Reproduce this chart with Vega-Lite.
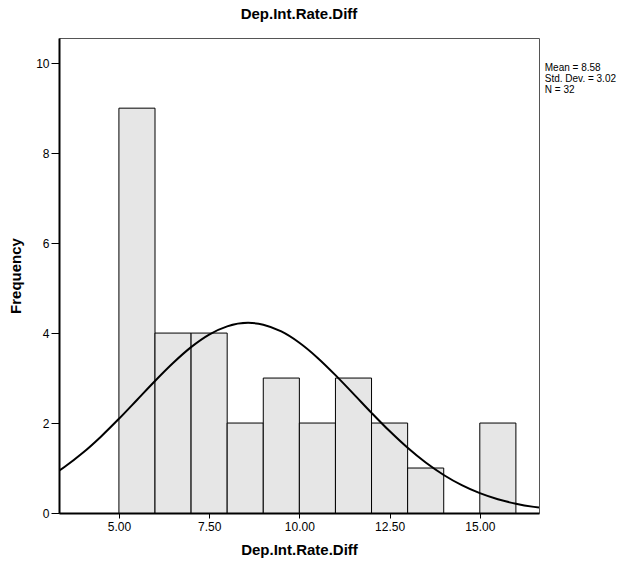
{
  "$schema": "https://vega.github.io/schema/vega-lite/v6.json",
  "width": 480,
  "height": 475,
  "autosize": {"type": "none"},
  "padding": {"left": 59, "top": 38, "right": 100, "bottom": 53},
  "background": "white",
  "title": {
    "text": "Dep.Int.Rate.Diff",
    "font": "Liberation Sans",
    "fontSize": 15,
    "fontWeight": "bold",
    "color": "black",
    "anchor": "middle",
    "offset": 16
  },
  "config": {
    "view": {"stroke": "#555555", "strokeWidth": 1},
    "axis": {
      "labelFont": "Liberation Sans",
      "titleFont": "Liberation Sans",
      "labelColor": "black",
      "titleColor": "black",
      "domainColor": "black",
      "tickColor": "black",
      "grid": false
    }
  },
  "datasets": {
    "bins": [
      {"bin_start": 5, "bin_end": 6, "count": 9},
      {"bin_start": 6, "bin_end": 7, "count": 4},
      {"bin_start": 7, "bin_end": 8, "count": 4},
      {"bin_start": 8, "bin_end": 9, "count": 2},
      {"bin_start": 9, "bin_end": 10, "count": 3},
      {"bin_start": 10, "bin_end": 11, "count": 2},
      {"bin_start": 11, "bin_end": 12, "count": 3},
      {"bin_start": 12, "bin_end": 13, "count": 2},
      {"bin_start": 13, "bin_end": 14, "count": 1},
      {"bin_start": 15, "bin_end": 16, "count": 2}
    ],
    "curve": [
      {"x": 3.34, "y": 0.938},
      {"x": 3.5, "y": 1.027},
      {"x": 4.0, "y": 1.338},
      {"x": 4.5, "y": 1.697},
      {"x": 5.0, "y": 2.094},
      {"x": 5.5, "y": 2.513},
      {"x": 6.0, "y": 2.935},
      {"x": 6.5, "y": 3.334},
      {"x": 7.0, "y": 3.687},
      {"x": 7.5, "y": 3.966},
      {"x": 8.0, "y": 4.150},
      {"x": 8.58, "y": 4.227},
      {"x": 9.0, "y": 4.187},
      {"x": 9.5, "y": 4.036},
      {"x": 10.0, "y": 3.785},
      {"x": 10.5, "y": 3.454},
      {"x": 11.0, "y": 3.066},
      {"x": 11.5, "y": 2.649},
      {"x": 12.0, "y": 2.227},
      {"x": 12.5, "y": 1.821},
      {"x": 13.0, "y": 1.449},
      {"x": 13.5, "y": 1.121},
      {"x": 14.0, "y": 0.845},
      {"x": 14.5, "y": 0.619},
      {"x": 15.0, "y": 0.441},
      {"x": 15.5, "y": 0.306},
      {"x": 16.0, "y": 0.207},
      {"x": 16.5, "y": 0.136},
      {"x": 16.64, "y": 0.120}
    ]
  },
  "layer": [
    {
      "data": {"name": "bins"},
      "mark": {"type": "bar", "fill": "#e6e6e6", "stroke": "black", "strokeWidth": 1},
      "encoding": {
        "x": {
          "field": "bin_start",
          "type": "quantitative",
          "scale": {"domain": [3.34, 16.64], "nice": false, "zero": false},
          "axis": {
            "title": "Dep.Int.Rate.Diff",
            "titleFontSize": 15,
            "titleFontWeight": "bold",
            "titlePadding": 10,
            "values": [5, 7.5, 10, 12.5, 15],
            "format": ".2f",
            "labelFontSize": 12,
            "tickSize": 5,
            "labelPadding": 3,
            "domainWidth": 2
          }
        },
        "x2": {"field": "bin_end"},
        "y": {
          "field": "count",
          "type": "quantitative",
          "scale": {"domain": [0, 10.56], "nice": false},
          "axis": {
            "title": "Frequency",
            "titleFontSize": 15,
            "titleFontWeight": "bold",
            "titlePadding": 12,
            "values": [0, 2, 4, 6, 8, 10],
            "labelFontSize": 12,
            "tickSize": 8,
            "labelPadding": 2,
            "domainWidth": 2
          }
        },
        "y2": {"datum": 0}
      }
    },
    {
      "data": {"name": "curve"},
      "mark": {"type": "line", "color": "black", "strokeWidth": 2, "interpolate": "monotone", "clip": true},
      "encoding": {
        "x": {"field": "x", "type": "quantitative"},
        "y": {"field": "y", "type": "quantitative"}
      }
    },
    {
      "data": {"values": [{}]},
      "mark": {
        "type": "text",
        "align": "left",
        "baseline": "top",
        "font": "Liberation Sans",
        "fontSize": 10,
        "lineHeight": 11,
        "color": "black",
        "clip": false
      },
      "encoding": {
        "x": {"datum": 16.8},
        "y": {"datum": 10.0},
        "text": {"value": ["Mean = 8.58", "Std. Dev. = 3.02", "N = 32"]}
      }
    }
  ]
}
